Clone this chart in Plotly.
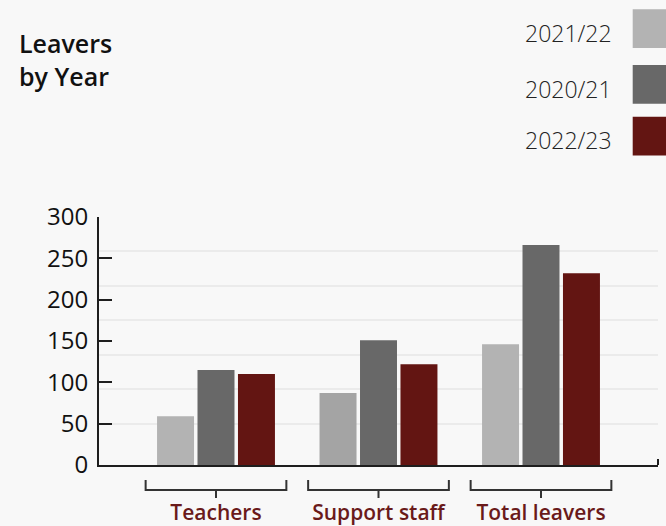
import plotly.graph_objects as go

# Leavers by staff group, one series per academic year
categories = ["Teachers", "Support staff", "Total leavers"]
series_names = ["2021/22", "2020/21", "2022/23"]
values_2021_22 = [59, 87, 146]
values_2020_21 = [115, 151, 266]
values_2022_23 = [110, 122, 232]
y_ticks = [0, 50, 100, 150, 200, 250, 300]

series_values = [values_2021_22, values_2020_21, values_2022_23]
series_colors = [
    ["#b3b3b3", "#a4a4a4", "#b3b3b3"],
    "#686868",
    "#631512",
]
swatch_colors = ["#b3b3b3", "#686868", "#631512"]

W, H = 666, 526
ML, MR, MT, MB = 99, 8, 217, 61
PW, PH = W - ML - MR, H - MT - MB

FONT = "Open Sans"
INK = "#1e1e1e"
RED_TEXT = "#6a1a1a"


def px_x(x):
    return (x - ML) / PW


def px_y(y):
    return (H - MB - y) / PH


fig = go.Figure()
for name, vals, col in zip(series_names, series_values, series_colors):
    fig.add_trace(go.Bar(
        x=categories, y=vals, name=name,
        marker=dict(color=col, line=dict(width=0)),
        showlegend=False,
    ))

# light horizontal guide lines on an overlaid axis
grid_vals = [50 + k * 250 / 6 for k in range(7)]
fig.add_trace(go.Scatter(x=[categories[0]], y=[None], yaxis="y2",
                         showlegend=False, hoverinfo="skip"))

shapes = []
# brackets under each category group
for i in range(len(categories)):
    x0, x1 = i - 0.433, i + 0.433
    shapes.append(dict(
        type="path", xref="x", yref="paper",
        path=(f"M {x0},{px_y(480)} L {x0},{px_y(490)} L {x1},{px_y(490)} "
              f"L {x1},{px_y(480)} M {i},{px_y(490)} L {i},{px_y(498)}"),
        line=dict(color="#333333", width=2),
    ))
# end tick on the category axis
shapes.append(dict(type="line", xref="paper", yref="paper",
                   x0=1, x1=1, y0=0, y1=px_y(459),
                   line=dict(color=INK, width=2)))

annotations = [dict(
    text="Leavers<br>by Year", xref="paper", yref="paper",
    x=px_x(17), y=px_y(24), xanchor="left", yanchor="top",
    align="left", showarrow=False,
    font=dict(family=FONT, size=25, weight=600, color="#111111"),
)]

# legend: label on the left, swatch on the right
swatch_tops = [9.3, 65, 116.7]
for name, color, top in zip(series_names, swatch_colors, swatch_tops):
    shapes.append(dict(type="rect", xref="paper", yref="paper",
                       x0=px_x(632.7), x1=px_x(672),
                       y0=px_y(top), y1=px_y(top + 38.7),
                       fillcolor=color, line=dict(width=0)))
    annotations.append(dict(
        text=name, xref="paper", yref="paper",
        x=px_x(614), y=px_y(top + 23.5), xanchor="right", yanchor="middle",
        showarrow=False,
        font=dict(family=FONT, size=23, weight=300, color="#222222"),
    ))

fig.update_layout(
    width=W, height=H, autosize=False,
    margin=dict(l=ML, r=MR, t=MT, b=MB, pad=0),
    paper_bgcolor="#f8f8f8", plot_bgcolor="#f8f8f8",
    barmode="group", bargap=0.253, bargroupgap=0.086,
    shapes=shapes, annotations=annotations,
    xaxis=dict(
        type="category", range=[-0.72, 2.72], automargin=False,
        showline=True, linecolor=INK, linewidth=2,
        ticks="", showgrid=False, zeroline=False,
        tickfont=dict(family=FONT, size=21, weight=600, color=RED_TEXT),
        ticklabelstandoff=28,
    ),
    yaxis=dict(
        range=[0, 300], tickvals=y_ticks, automargin=False,
        showline=True, linecolor=INK, linewidth=2,
        ticks="inside", ticklen=13, tickwidth=2, tickcolor=INK,
        showgrid=False, zeroline=False,
        tickfont=dict(family=FONT, size=24, color="#111111"),
        ticklabelstandoff=4,
    ),
    yaxis2=dict(
        overlaying="y", range=[0, 300], tickvals=grid_vals, automargin=False,
        showgrid=True, gridcolor="#ebebeb", gridwidth=2,
        showticklabels=False, ticks="", showline=False, zeroline=False,
    ),
)

fig.write_html("out.html")
